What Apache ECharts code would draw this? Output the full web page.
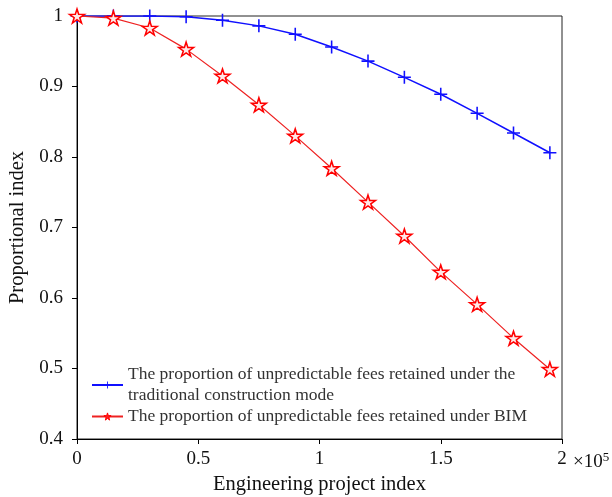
<!DOCTYPE html>
<html lang="en">
<head>
    <meta charset="UTF-8">
    <title>Proportional index</title>
    <script src="https://cdn.jsdelivr.net/npm/echarts@6/dist/echarts.min.js"></script>
    <style>
        html, body { margin: 0; padding: 0; background: #fff; }
        #container { width: 612px; height: 497px; }
    </style>
</head>
<body>
    <div id="container"></div>
    <script>
        // x values are in units of 10^5
        let projectIndex = [0, 0.15, 0.3, 0.45, 0.6, 0.75, 0.9, 1.05, 1.2, 1.35, 1.5, 1.65, 1.8, 1.95];
        let traditional = [1, 1, 1, 0.999, 0.994, 0.986, 0.974, 0.956, 0.936, 0.913, 0.889, 0.862, 0.834, 0.806];
        let bim = [1, 0.997, 0.983, 0.953, 0.915, 0.874, 0.830, 0.784, 0.736, 0.688, 0.637, 0.591, 0.543, 0.499];
        let seriesNames = [
            'The proportion of unpredictable fees retained under the\ntraditional construction mode',
            'The proportion of unpredictable fees retained under BIM'
        ];

        let font = 'Liberation Serif, Times New Roman, serif';
        let plus = 'path://M4.4,0 H5.6 V4.4 H10 V5.6 H5.6 V10 H4.4 V5.6 H0 V4.4 H4.4 Z';
        let star = 'path://M50,0 L61,35 L98,35 L68,57 L79,91 L50,70 L21,91 L32,57 L2,35 L39,35 Z';

        function pairs(ys) {
            return ys.map((y, i) => [projectIndex[i], y]);
        }

        function tickText(v) {
            return String(parseFloat(v.toFixed(1)));
        }

        let chart = echarts.init(document.getElementById('container'));
        let option = {
            animation: false,
            backgroundColor: '#fff',
            textStyle: { fontFamily: font },
            grid: {
                left: 77, right: 50, top: 16, bottom: 58,
                outerBoundsMode: 'none',
                show: true, borderColor: '#222', borderWidth: 1
            },
            legend: {
                orient: 'vertical',
                left: 86,
                top: 359,
                itemWidth: 31,
                itemHeight: 9,
                itemGap: 0,
                textStyle: { fontFamily: font, fontSize: 17.5, color: '#333', lineHeight: 21 },
                data: [
                    { name: seriesNames[0] },
                    { name: seriesNames[1], itemStyle: { color: '#ff2020', borderColor: '#ff0000', borderWidth: 1 } }
                ]
            },
            xAxis: {
                type: 'value',
                min: 0,
                max: 2,
                interval: 0.5,
                name: 'Engineering project index',
                nameLocation: 'middle',
                nameGap: 34,
                nameTextStyle: { fontFamily: font, fontSize: 20.5, color: '#111' },
                axisLine: { lineStyle: { color: '#000' } },
                axisTick: { inside: false, length: 5, lineStyle: { color: '#000' } },
                axisLabel: { fontFamily: font, fontSize: 19, color: '#111', margin: 11, formatter: tickText },
                splitLine: { show: false }
            },
            yAxis: {
                type: 'value',
                min: 0.4,
                max: 1,
                interval: 0.1,
                name: 'Proportional index',
                nameLocation: 'middle',
                nameGap: 47,
                nameTextStyle: { fontFamily: font, fontSize: 20.5, color: '#111' },
                axisLine: { lineStyle: { color: '#000' } },
                axisTick: { inside: false, length: 5, lineStyle: { color: '#000' } },
                axisLabel: { fontFamily: font, fontSize: 19, color: '#111', margin: 14, formatter: tickText },
                splitLine: { show: false }
            },
            graphic: [{
                type: 'text',
                left: 573,
                top: 451,
                style: {
                    text: '×10{s|5}',
                    rich: { s: { fontSize: 13, verticalAlign: 'top', padding: [0, 0, 9, 0], fontFamily: font, fill: '#111' } },
                    fontFamily: font,
                    fontSize: 19,
                    fill: '#111'
                }
            }],
            series: [{
                name: seriesNames[0],
                type: 'line',
                data: pairs(traditional),
                symbol: plus,
                symbolSize: 13,
                showAllSymbol: true,
                lineStyle: { color: '#1010ff', width: 1.5 },
                itemStyle: { color: '#1010ff', borderWidth: 0 },
                z: 2
            }, {
                name: seriesNames[1],
                type: 'line',
                data: pairs(bim),
                symbol: star,
                symbolSize: [15, 14],
                showAllSymbol: true,
                lineStyle: { color: '#ee2222', width: 1.2 },
                itemStyle: { color: '#ffe8e8', borderColor: '#ff0000', borderWidth: 1.5 },
                z: 3
            }]
        };
        chart.setOption(option);
    </script>
</body>
</html>
